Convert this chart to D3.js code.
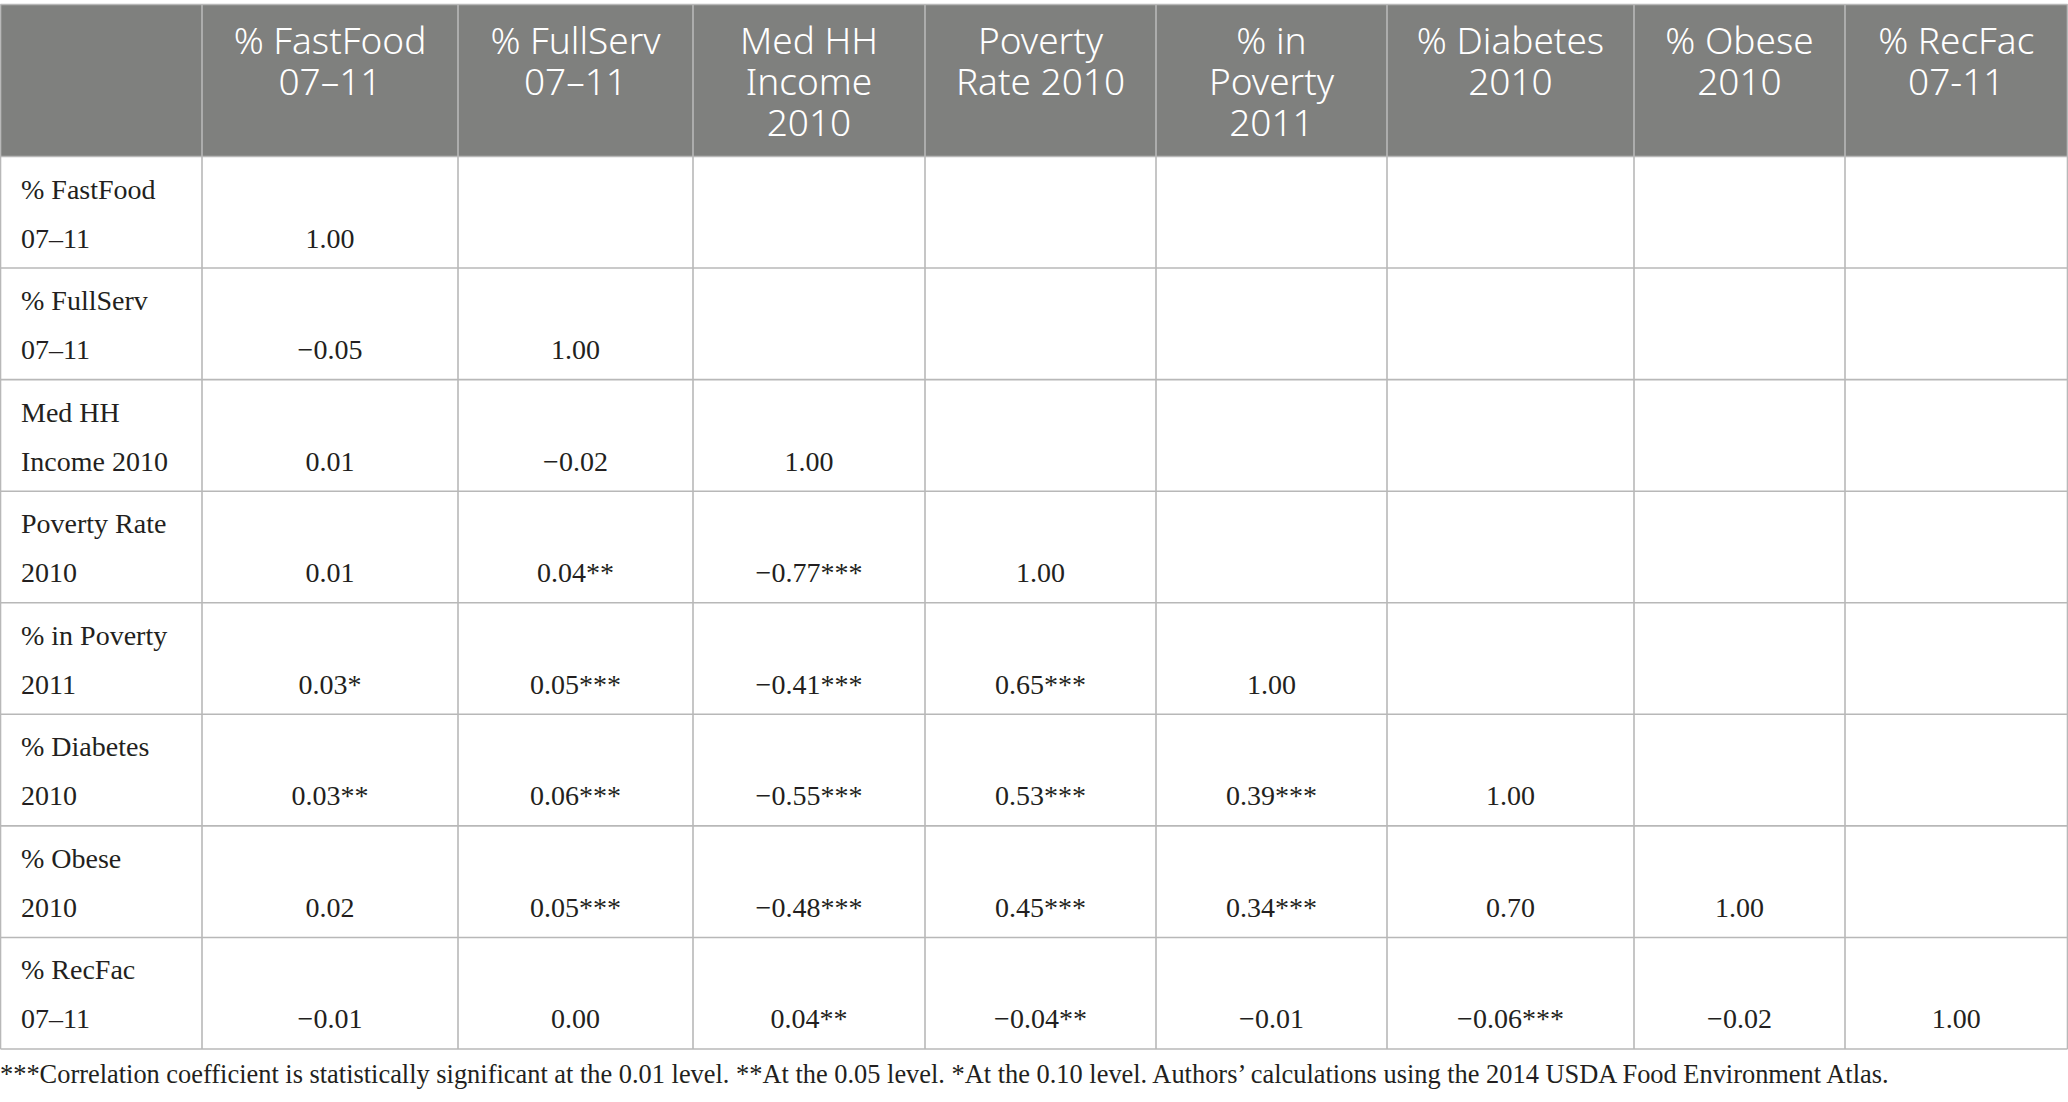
<!DOCTYPE html>
<html>
<head>
<meta charset="utf-8">
<script src="https://cdn.jsdelivr.net/npm/d3@7"></script>
<style>
  body { margin: 0; background: #fff; }
  .hdr { font-family: "Noto Sans", sans-serif; font-weight: 300; font-size: 37px; fill: #fff; }
  .cell { font-family: "Liberation Serif", serif; font-size: 28px; fill: #231f20; }
  .note { font-family: "Liberation Serif", serif; font-size: 26.4px; fill: #231f20; }
</style>
</head>
<body>
<script>
// variables (columns and rows share the same order)
const colKeys = ["fastfood", "fullserv", "income", "povrate", "inpov", "diabetes", "obese", "recfac"];
const colHeaders = [
  ["% FastFood", "07–11"],
  ["% FullServ", "07–11"],
  ["Med HH", "Income", "2010"],
  ["Poverty", "Rate 2010"],
  ["% in", "Poverty", "2011"],
  ["% Diabetes", "2010"],
  ["% Obese", "2010"],
  ["% RecFac", "07-11"]
];
const rowLabels = [
  ["% FastFood", "07–11"],
  ["% FullServ", "07–11"],
  ["Med HH", "Income 2010"],
  ["Poverty Rate", "2010"],
  ["% in Poverty", "2011"],
  ["% Diabetes", "2010"],
  ["% Obese", "2010"],
  ["% RecFac", "07–11"]
];

// lower triangle of the correlation matrix
const coef = [
  [1.00],
  [-0.05, 1.00],
  [0.01, -0.02, 1.00],
  [0.01, 0.04, -0.77, 1.00],
  [0.03, 0.05, -0.41, 0.65, 1.00],
  [0.03, 0.06, -0.55, 0.53, 0.39, 1.00],
  [0.02, 0.05, -0.48, 0.45, 0.34, 0.70, 1.00],
  [-0.01, 0.00, 0.04, -0.04, -0.01, -0.06, -0.02, 1.00]
];
const stars = [
  [""],
  ["", ""],
  ["", "", ""],
  ["", "**", "***", ""],
  ["*", "***", "***", "***", ""],
  ["**", "***", "***", "***", "***", ""],
  ["", "***", "***", "***", "***", "", ""],
  ["", "", "**", "**", "", "***", "", ""]
];
const footnote = "***Correlation coefficient is statistically significant at the 0.01 level. **At the 0.05 level. *At the 0.10 level. Authors’ calculations using the 2014 USDA Food Environment Atlas.";

// layout
const W = 2068, H = 1102;
const colEdges = [0.5, 202, 458, 693, 925, 1156, 1387, 1634, 1845, 2067.5];
const tableTop = 4.5, headBottom = 156.5, tableBottom = 1049;
const lineCol = "#b8b8b8";

const svg = d3.select("body").append("svg")
  .attr("width", W).attr("height", H);

const xKeys = ["label"].concat(colKeys);
const x = d3.scaleOrdinal().domain(xKeys).range(colEdges.slice(0, -1));
const xEnd = d3.scaleOrdinal().domain(xKeys).range(colEdges.slice(1));
const xMid = k => (x(k) + xEnd(k)) / 2;

const y = d3.scaleBand().domain(d3.range(rowLabels.length)).range([headBottom, tableBottom]);
const fmt = d3.format(".2f");

// header band
svg.append("rect")
  .attr("x", colEdges[0]).attr("y", tableTop)
  .attr("width", colEdges[colEdges.length - 1] - colEdges[0])
  .attr("height", headBottom - tableTop)
  .attr("fill", "#7f807e");

// grid lines
const hLines = [tableTop].concat(y.domain().map(i => y(i)), [tableBottom]);
svg.append("g").selectAll("line").data(hLines).join("line")
  .attr("x1", colEdges[0]).attr("x2", colEdges[colEdges.length - 1])
  .attr("y1", d => d).attr("y2", d => d)
  .attr("stroke", lineCol).attr("stroke-width", 1.6);

svg.append("g").selectAll("line").data(colEdges).join("line")
  .attr("x1", d => d).attr("x2", d => d)
  .attr("y1", tableTop).attr("y2", tableBottom)
  .attr("stroke", lineCol).attr("stroke-width", 1.6);

// column headers
const hdr = svg.append("g").selectAll("text").data(colKeys).join("text")
  .attr("class", "hdr")
  .attr("text-anchor", "middle");
hdr.each(function (k, i) {
  d3.select(this).selectAll("tspan").data(colHeaders[i]).join("tspan")
    .attr("x", xMid(k))
    .attr("y", (d, j) => 54 + j * 41)
    .text(d => d);
});

// row labels
const rows = svg.append("g").selectAll("g").data(rowLabels).join("g")
  .attr("transform", (d, i) => `translate(0,${y(i)})`);
rows.selectAll("text.lab").data(d => d).join("text")
  .attr("class", "cell lab")
  .attr("x", 21)
  .attr("y", (d, j) => 42 + j * 49)
  .text(d => d);

// coefficients
rows.selectAll("text.val")
  .data((d, i) => coef[i].map((v, c) => ({v, s: stars[i][c], k: colKeys[c]})))
  .join("text")
  .attr("class", "cell val")
  .attr("text-anchor", "middle")
  .attr("x", d => xMid(d.k))
  .attr("y", 91)
  .text(d => fmt(d.v) + d.s);

// footnote
svg.append("text")
  .attr("class", "note")
  .attr("x", 0).attr("y", 1083)
  .text(footnote);
</script>
</body>
</html>
